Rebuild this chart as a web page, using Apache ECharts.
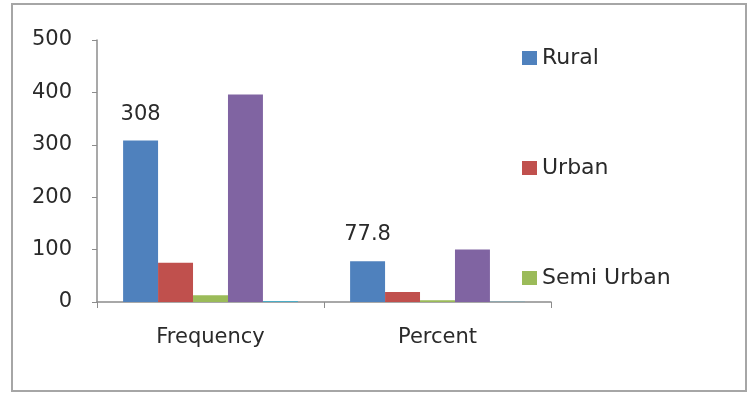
<!DOCTYPE html>
<html>
<head>
<meta charset="utf-8">
<script src="https://cdn.jsdelivr.net/npm/echarts@6/dist/echarts.min.js"></script>
<style>
  html, body { margin: 0; padding: 0; background: #fff; }
  #wrap { position: relative; width: 749px; height: 393px; }
  #frame { position: absolute; left: 11px; top: 3px; width: 732px; height: 385px; border: 2px solid #a6a6a6; }
  #chart { position: absolute; left: 0; top: 0; width: 749px; height: 393px; }
</style>
</head>
<body>
<div id="wrap">
  <div id="frame"></div>
  <div id="chart"></div>
</div>
<script>
// categories and values
const categories = ["Frequency", "Percent"];
const rural = [308, 77.8];
const urban = [75, 18.9];
const semiUrban = [13, 3.3];
const total = [396, 100];
const other = [2, 0.5];
const legendNames = ["Rural", "Urban", "Semi Urban"];

const font = "DejaVu Sans";

let chart = echarts.init(document.getElementById("chart"));
let option = {
  animation: false,
  textStyle: { fontFamily: font },
  grid: { left: 97, right: 198, top: 40, bottom: 91 },
  legend: {
    data: legendNames,
    orient: "vertical",
    left: 517,
    top: 42,
    itemGap: 88,
    itemWidth: 15,
    itemHeight: 14,
    itemTextGap: 6,
    icon: "rect",
    textStyle: { fontFamily: font, fontSize: 22, color: "#2a2a2a" },
  },
  xAxis: {
    type: "category",
    data: categories,
    axisLine: { lineStyle: { color: "#8c8c8c", width: 1.5 } },
    axisTick: { show: true, length: 6, lineStyle: { color: "#8c8c8c" } },
    axisLabel: { fontSize: 21, color: "#2a2a2a", margin: 25, fontFamily: font },
  },
  yAxis: {
    type: "value",
    min: 0,
    max: 500,
    interval: 100,
    axisLine: { show: true, lineStyle: { color: "#8c8c8c", width: 1.5 } },
    axisTick: { show: true, length: 5, lineStyle: { color: "#8c8c8c" } },
    splitLine: { show: false },
    axisLabel: { fontSize: 21, color: "#2a2a2a", margin: 25, fontFamily: font },
  },
  series: [
    {
      name: "Rural", type: "bar", data: rural, barGap: 0, barCategoryGap: "23%",
      itemStyle: { color: "#4F81BD" },
      label: { show: true, position: "top", distance: 16, fontSize: 21, color: "#2a2a2a", fontFamily: font },
    },
    { name: "Urban", type: "bar", data: urban, itemStyle: { color: "#C0504D" } },
    { name: "Semi Urban", type: "bar", data: semiUrban, itemStyle: { color: "#9BBB59" } },
    { name: "Total", type: "bar", data: total, itemStyle: { color: "#8064A2" } },
    { name: "Other", type: "bar", data: other, itemStyle: { color: "#4BACC6" } },
  ],
};
chart.setOption(option);
</script>
</body>
</html>
